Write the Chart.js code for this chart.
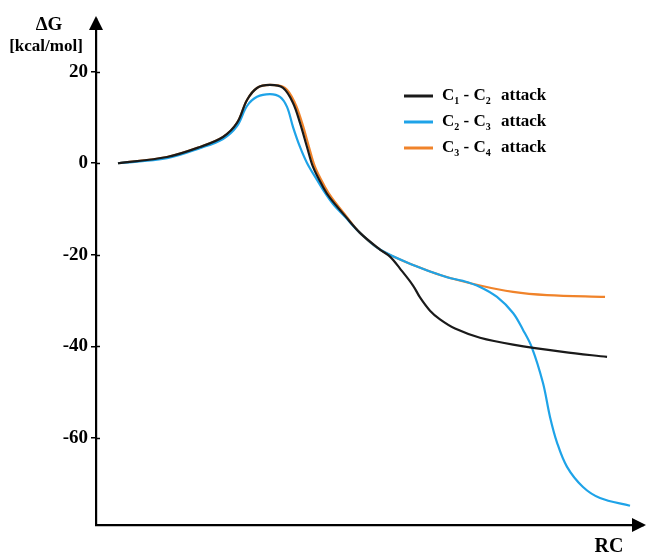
<!DOCTYPE html>
<html><head><meta charset="utf-8">
<script src="https://cdn.jsdelivr.net/npm/chart.js@4.4.1/dist/chart.umd.min.js"></script>
<style>html,body{margin:0;padding:0;background:#fff}#wrap{width:646px;height:556px}</style>
</head><body><div id="wrap"><canvas id="c" width="646" height="556"></canvas></div>
<script>
const seriesNames = ["C1 - C2 attack", "C2 - C3 attack", "C3 - C4 attack"];
const legendParts = [["1","2"],["2","3"],["3","4"]];
const yTickValues = [20, 0, -20, -40, -60];

const blackRC = [3.98, 12.85, 18.82, 22.99, 25.52, 27.33, 29.14, 31.49, 33.85, 35.66, 36.92, 38.19, 39.28, 41.09, 42.35, 45.07, 47.78, 51.40, 53.21, 55.02, 57.38, 58.64, 60.45, 62.26, 64.98, 69.50, 75.48, 84.52, 92.49];
const blackG  = [0, 1.37, 3.56, 5.74, 8.80, 13.82, 16.44, 17.10, 16.44, 13.17, 8.80, 3.56, -0.81, -5.17, -7.58, -11.5, -15.2, -18.85, -20.4, -23.0, -26.7, -29.3, -32.2, -34.1, -36.1, -38.1, -39.6, -41.2, -42.3];

const blueRC = [3.98, 12.85, 18.82, 22.99, 25.52, 27.33, 29.14, 31.49, 33.30, 34.57, 35.66, 36.92, 38.19, 40.0, 41.45, 42.90, 45.07, 47.78, 51.40, 57.38, 63.53, 66.43, 69.50, 72.58, 75.48, 77.29, 78.91, 80.90, 82.17, 83.44, 85.25, 88.14, 91.22, 96.65];
const blueG  = [0, 1.1, 3.3, 5.3, 8.1, 12.5, 14.5, 15.1, 14.5, 12.3, 7.9, 3.56, 0.07, -3.64, -6.48, -8.9, -11.7, -15.2, -18.85, -22.2, -24.9, -25.7, -27.0, -29.2, -32.7, -36.4, -40.3, -48.0, -55.4, -61.0, -66.3, -70.7, -73.1, -74.8];

const orangeRC = [3.98, 12.85, 18.82, 22.99, 25.52, 27.33, 29.14, 31.49, 34.2, 36.0, 37.3, 38.55, 39.64, 41.45, 42.7, 45.25, 47.78, 51.40, 55.02, 57.38, 62.26, 69.50, 75.48, 81.63, 92.13];
const orangeG  = [0, 1.37, 3.56, 5.74, 8.80, 13.82, 16.44, 17.10, 16.44, 13.17, 8.8, 3.56, -0.81, -5.17, -7.58, -11.5, -15.2, -18.85, -21.0, -22.2, -24.4, -26.7, -28.1, -28.8, -29.2];

const colors = ["#1a1a1a", "#1ea3e8", "#f0832a"];
const pts = (xs, ys) => xs.map((x, i) => ({x: x, y: ys[i]}));
const serif = "'Liberation Serif', 'DejaVu Serif', serif";

const decor = {
  id: 'decor',
  afterDraw(chart) {
    const ctx = chart.ctx, a = chart.chartArea, ys = chart.scales.y;
    ctx.save();
    ctx.fillStyle = '#000';
    ctx.strokeStyle = '#000';
    ctx.lineWidth = 1.5;
    yTickValues.forEach(v => {
      const py = Math.round(ys.getPixelForValue(v)) + 0.5;
      ctx.beginPath(); ctx.moveTo(a.left, py); ctx.lineTo(a.left + 4, py); ctx.stroke();
    });
    ctx.beginPath();
    ctx.moveTo(a.left, a.top - 3);
    ctx.lineTo(a.left - 7, a.top + 11);
    ctx.lineTo(a.left + 7, a.top + 11);
    ctx.closePath(); ctx.fill();
    ctx.beginPath();
    ctx.moveTo(a.right + 3, a.bottom);
    ctx.lineTo(a.right - 11, a.bottom - 7);
    ctx.lineTo(a.right - 11, a.bottom + 7);
    ctx.closePath(); ctx.fill();
    ctx.textAlign = 'center'; ctx.textBaseline = 'middle';
    ctx.font = "bold 19px " + serif;
    ctx.fillText('ΔG', 49, 25);
    ctx.font = "bold 17px " + serif;
    ctx.fillText('[kcal/mol]', 46, 47);
    ctx.font = "bold 20px " + serif;
    ctx.fillText('RC', 609, 547);
    const rows = [96, 122, 148];
    chart.data.datasets.forEach((ds, i) => {
      const y = rows[i];
      ctx.strokeStyle = ds.borderColor; ctx.lineWidth = 3;
      ctx.beginPath(); ctx.moveTo(404, y); ctx.lineTo(433, y); ctx.stroke();
      ctx.textAlign = 'left'; ctx.textBaseline = 'middle'; ctx.fillStyle = '#000';
      let x = 442;
      const big = "bold 17px " + serif, small = "bold 10px " + serif;
      const [s1, s2] = legendParts[i];
      ctx.font = big; ctx.fillText('C', x, y); x += ctx.measureText('C').width;
      ctx.font = small; ctx.fillText(s1, x, y + 5); x += ctx.measureText(s1).width;
      ctx.font = big; ctx.fillText(' - C', x, y); x += ctx.measureText(' - C').width;
      ctx.font = small; ctx.fillText(s2, x, y + 5);
      ctx.font = big; ctx.fillText('attack', 501, y);
    });
    ctx.restore();
  }
};

new Chart(document.getElementById('c'), {
  type: 'scatter',
  data: {
    datasets: [
      {label: seriesNames[0], data: pts(blackRC, blackG), borderColor: colors[0]},
      {label: seriesNames[1], data: pts(blueRC, blueG), borderColor: colors[1]},
      {label: seriesNames[2], data: pts(orangeRC, orangeG), borderColor: colors[2]}
    ].map(d => Object.assign(d, {showLine: true, pointRadius: 0, borderWidth: 2.2, tension: 0.35, fill: false}))
  },
  options: {
    responsive: false, animation: false,
    layout: {padding: {left: 0, right: 3, top: 19, bottom: 31}},
    plugins: {legend: {display: false}, tooltip: {enabled: false}},
    scales: {
      x: {
        type: 'linear', min: 0, max: 99,
        ticks: {display: false},
        grid: {display: false},
        border: {display: true, color: '#000', width: 2.2},
        afterFit(s) { s.height = 0; }
      },
      y: {
        type: 'linear', min: -79, max: 31.5,
        afterBuildTicks(s) { s.ticks = yTickValues.map(v => ({value: v})); },
        ticks: {color: '#000', font: {family: serif, size: 19, weight: 'bold'}, padding: 3},
        grid: {drawOnChartArea: false, tickLength: 5, color: '#000', lineWidth: 1.5},
        border: {display: true, color: '#000', width: 2.2},
        afterFit(s) { s.width = 96; }
      }
    }
  },
  plugins: [decor]
});
</script></body></html>
